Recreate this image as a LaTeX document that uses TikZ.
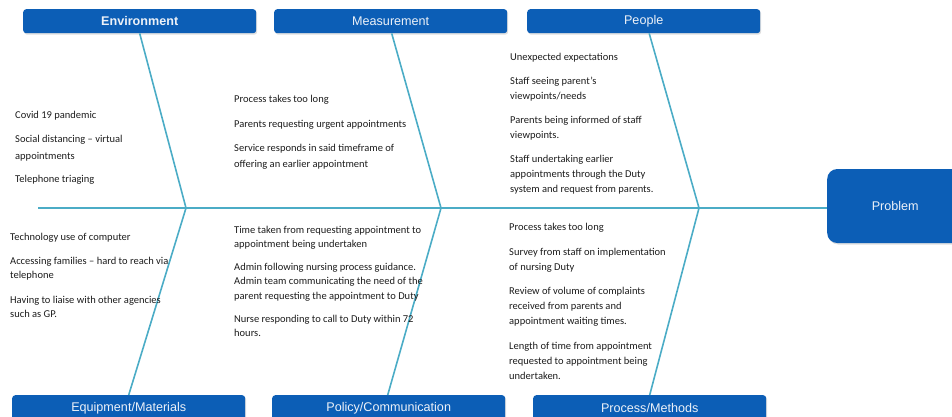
\documentclass[tikz,border=0pt]{standalone}
\usepackage{fontspec}
\setmainfont{Carlito}
\newfontfamily\hdrfont{Liberation Sans}
\usetikzlibrary{shadows}
\definecolor{boxblue}{RGB}{12,94,182}
\definecolor{bonecol}{RGB}{75,172,198}
\definecolor{labelcol}{RGB}{236,241,248}
\definecolor{textcol}{RGB}{28,28,28}
\begin{document}
\begin{tikzpicture}[x=1pt,y=-1pt,
  catbox/.style={fill=boxblue, rounded corners=3pt, minimum width=233pt,
    minimum height=24pt, inner sep=0pt, text=labelcol,
    font=\hdrfont\fontsize{12.6}{14}\selectfont,
    drop shadow={opacity=0.25, shadow xshift=1pt, shadow yshift=-1.5pt}},
  lowbox/.style={catbox, minimum height=26pt},
  probbox/.style={fill=boxblue, rounded corners=10pt, minimum width=136pt,
    minimum height=74pt, inner sep=0pt, text=labelcol,
    font=\hdrfont\fontsize{12.6}{14}\selectfont,
    drop shadow={opacity=0.25, shadow xshift=1pt, shadow yshift=-1.5pt}},
  bone/.style={draw=bonecol, line width=1.6pt},
  causes/.style={anchor=north west, inner sep=0pt, align=left, text=textcol,
    font=\fontsize{10.5}{15}\selectfont},
  lead/.style={font=\fontsize{10.5}{#1}\selectfont}]
\useasboundingbox (0,0) rectangle (952,416);
\clip (0,0) rectangle (952,416);

% category boxes
\node[catbox, anchor=north west] (env)  at (23,9)   {\bfseries Environment};
\node[catbox, anchor=north west] (meas) at (274,9)  {Measurement};
\node[catbox, anchor=north west] (peop) at (527,9)  {People};
\node[lowbox, anchor=north west] (equi) at (12,395) {Equipment/Materials};
\node[lowbox, anchor=north west] (poli) at (272,395) {Policy/Communication};
\node[lowbox, anchor=north west] (proc) at (533,395) {Process/Methods};

% effect box
\node[probbox, anchor=west] (prob) at (827,206) {Problem};

% spine and junctions
\coordinate (tail) at (38,208);
\coordinate (j1) at (186,208);
\coordinate (j2) at (441,208);
\coordinate (j3) at (699,208);
\draw[bone] (tail) -- (tail -| prob.west);

% bones
\draw[bone] (env.south) -- (j1) -- (equi.north);
\draw[bone] ([xshift=1pt]meas.south) -- (j2) -- ([xshift=-1pt]poli.north);
\draw[bone] ([xshift=5.5pt]peop.south) -- (j3) -- (proc.north);

% causes
\node[causes, lead=16.5] (tenv) at (15,107) {\strut Covid 19 pandemic\\[7.5pt]
  Social distancing -- virtual\\ appointments\\[6.5pt]
  Telephone triaging};

\node[causes, lead=15.7] (tmeas) at (234,91) {\strut Process takes too long\\[9.3pt]
  Parents requesting urgent appointments\\[8.5pt]
  Service responds in said timeframe of\\ offering an earlier appointment};

\node[causes, lead=15] (tpeop) at (510,50) {\strut Unexpected expectations\\[9pt]
  Staff seeing parent’s\\ viewpoints/needs\\[9pt]
  Parents being informed of staff\\ viewpoints.\\[9pt]
  Staff undertaking earlier\\ appointments through the Duty\\ system and request from parents.};

\node[causes, lead=14.5] (tequi) at (10,230) {\strut Technology use of computer\\[9.5pt]
  Accessing families -- hard to reach via\\ telephone\\[10pt]
  Having to liaise with other agencies\\ such as GP.};

\node[causes, lead=14.3] (tpoli) at (234,223) {\strut Time taken from requesting appointment to\\ appointment being undertaken\\[8.7pt]
  Admin following nursing process guidance.\\ Admin team communicating the need of the\\ parent requesting the appointment to Duty\\[8.7pt]
  Nurse responding to call to Duty within 72\\ hours.};

\node[causes, lead=15] (tproc) at (509,220) {\strut Process takes too long\\[9.5pt]
  Survey from staff on implementation\\ of nursing Duty\\[9.5pt]
  Review of volume of complaints\\ received from parents and\\ appointment waiting times.\\[9.5pt]
  Length of time from appointment\\ requested to appointment being\\ undertaken.};
\end{tikzpicture}
\end{document}
